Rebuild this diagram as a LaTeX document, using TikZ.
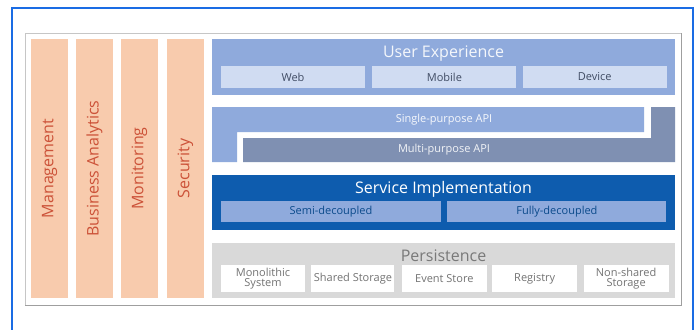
\documentclass[tikz,border=0pt]{standalone}
\usepackage{fontspec}
\setmainfont{Open Sans}
\usepackage{tikz}
\usetikzlibrary{positioning}
\definecolor{msframe}{RGB}{26,108,228}
\definecolor{mspeach}{RGB}{248,203,173}
\definecolor{msrust}{RGB}{204,82,56}
\definecolor{msux}{RGB}{143,170,220}
\definecolor{msuxsub}{RGB}{208,220,242}
\definecolor{msmulti}{RGB}{127,144,178}
\definecolor{msservice}{RGB}{14,92,174}
\definecolor{mspersist}{RGB}{217,217,217}
\definecolor{msdark}{RGB}{64,76,100}
\tikzstyle{column} = [fill=mspeach, text=msrust, rotate=90, minimum width=259pt, minimum height=37pt, inner sep=0pt, font=\fontsize{16}{16}\selectfont]
\tikzstyle{band} = [minimum width=463pt, minimum height=55pt, inner sep=0pt]
\tikzstyle{title} = [font=\fontsize{16}{16}\selectfont, inner sep=0pt]
\tikzstyle{subbox} = [minimum height=22pt, inner sep=0pt, align=center, font=\fontsize{11}{10}\selectfont]

\begin{document}
\begin{tikzpicture}[x=1pt, y=-1pt]
\useasboundingbox (0,0) rectangle (698,329);
% outer frame
\draw[msframe, line width=2pt] (12,330) -- (12,8) -- (693,8) -- (693,330);
\draw[gray!45, fill=white] (25,33) rectangle (681,305);
\draw[gray!75, line width=1.2pt] (25,305.5) -- (681.5,305.5) -- (681.5,33);

% cross-cutting columns
\node[column] (mgmt) at (49.5,168.5) {Management};
\node[column] (analytics) at (94.5,168.5) {Business Analytics};
\node[column] (monitor) at (139.5,168.5) {Monitoring};
\node[column] (security) at (185.5,168.5) {Security};

% User Experience
\node[band, fill=msux, minimum height=56pt] (ux) at (443.5,67) {};
\node[title, text=white!90!msux] (uxtitle) at (443.5,54) {User Experience};
\node[subbox, fill=msuxsub, text=msdark, minimum width=144pt] (web) at (293,77) {Web};
\node[subbox, fill=msuxsub, text=msdark, minimum width=144pt, right=7pt of web] (mobile) {Mobile};
\node[subbox, fill=msuxsub, text=msdark, minimum width=144pt, right=6pt of mobile] (device) {Device};

% API layers
\fill[msmulti] (243,138) -- (651,138) -- (651,107) -- (675,107) -- (675,162) -- (243,162) -- cycle;
\fill[msux] (212,107) -- (644,107) -- (644,132) -- (237,132) -- (237,162) -- (212,162) -- cycle;
\node[text=white!92!msux, font=\fontsize{11}{11}\selectfont] (single) at (444,119.5) {Single-purpose API};
\node[text=white!90!msmulti, font=\fontsize{11}{11}\selectfont] (multi) at (444,150) {Multi-purpose API};

% Service Implementation
\node[band, fill=msservice] (service) at (443.5,202.5) {};
\node[title, text=white] (servicetitle) at (443.5,189) {Service Implementation};
\node[subbox, fill=msux, text=msservice!80!black, minimum width=220pt, minimum height=21pt] (semi) at (331,211.5) {Semi-decoupled};
\node[subbox, fill=msux, text=msservice!80!black, minimum width=219pt, minimum height=21pt, right=6pt of semi] (fully) {Fully-decoupled};

% Persistence
\node[band, fill=mspersist] (persist) at (443.5,270.5) {};
\node[title, text=gray!95!black] (persisttitle) at (443.5,256) {Persistence};
\node[subbox, fill=white, text=gray!90!black, minimum width=84pt, minimum height=27pt] (mono) at (263,278.5) {Monolithic\\System};
\node[subbox, fill=white, text=gray!90!black, minimum width=83pt, minimum height=27pt, right=6pt of mono] (shared) {Shared Storage};
\node[subbox, fill=white, text=gray!90!black, minimum width=85pt, minimum height=27pt, right=7pt of shared] (event) {Event Store};
\node[subbox, fill=white, text=gray!90!black, minimum width=85pt, minimum height=27pt, right=5pt of event] (registry) {Registry};
\node[subbox, fill=white, text=gray!90!black, minimum width=85pt, minimum height=27pt, right=6pt of registry] (nonshared) {Non-shared\\Storage};
\end{tikzpicture}
\end{document}
